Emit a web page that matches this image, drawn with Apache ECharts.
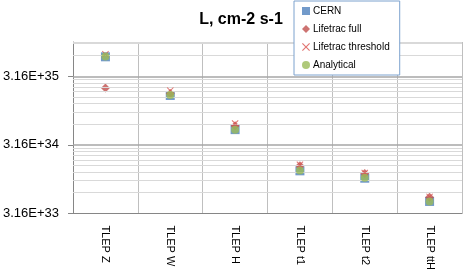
<!DOCTYPE html>
<html><head><meta charset="utf-8">
<script src="https://cdn.jsdelivr.net/npm/echarts@6/dist/echarts.min.js"></script>
<style>html,body{margin:0;padding:0;background:#fff}#c{width:471px;height:273px}</style>
</head><body><div id="c"></div>
<script>
const categories = ['TLEP Z', 'TLEP W', 'TLEP H', 'TLEP t1', 'TLEP t2', 'TLEP ttH'];
const cern = [6.08e35, 1.66e35, 5.27e34, 1.32e34, 1.03e34, 4.72e33];
const lifetracFull = [2.14e35, 1.78e35, 6.0e34, 1.57e34, 1.21e34, 5.45e33];
const lifetracThreshold = [6.6e35, 1.95e35, 6.46e34, 1.62e34, 1.23e34, 5.5e33];
const analytical = [6.17e35, 1.68e35, 5.25e34, 1.33e34, 1.05e34, 4.72e33];
const yTickValues = [3.1623e33, 3.1623e34, 3.1623e35];
const yMin = 3.1623e33, yMax = 1e36;
const minorMultipliers = [2, 3, 4, 5, 6, 7, 8, 9];

const majorLines = yTickValues.slice(1).map(v => ({yAxis: v}));
const minorLines = [];
yTickValues.forEach(b => minorMultipliers.forEach(k => { if (b * k < yMax) minorLines.push({yAxis: b * k}); }));
minorLines.push({yAxis: yMax});

const FONT = 'Liberation Sans';
const xPath = 'path://M1,0L5,4L9,0L10,1L6,5L10,9L9,10L5,6L1,10L0,9L4,5L0,1Z';
const chart = echarts.init(document.getElementById('c'));
chart.setOption({
  animation: false,
  title: {text: 'L, cm-2 s-1', left: 236, textAlign: 'center', top: 7,
    textStyle: {fontFamily: FONT, fontSize: 16, fontWeight: 'bold', color: '#000'}},
  legend: {
    orient: 'vertical', left: 294, top: 1, padding: [4, 10, 4, 8],
    backgroundColor: '#fff', borderColor: '#7da2ce', borderWidth: 1,
    itemWidth: 8, itemHeight: 8, itemGap: 6,
    textStyle: {fontFamily: FONT, fontSize: 10, color: '#000', lineHeight: 12, padding: [0, 0, 0, -2]},
    data: [
      {name: 'CERN', icon: 'rect'},
      {name: 'Lifetrac full', icon: 'diamond'},
      {name: 'Lifetrac threshold', icon: xPath},
      {name: 'Analytical', icon: 'circle'}
    ],
    z: 10
  },
  grid: {left: 73, right: 9, top: 42, bottom: 59},
  xAxis: {
    type: 'category', data: categories, boundaryGap: true,
    axisLine: {lineStyle: {color: '#868686'}},
    axisTick: {alignWithLabel: true, length: 4, lineStyle: {color: '#868686'}},
    axisLabel: {rotate: -90, margin: 12, fontFamily: FONT, fontSize: 11, color: '#000'},
    splitLine: {show: true, interval: 0, lineStyle: {color: '#bfbfbf', width: 1}}
  },
  yAxis: {
    type: 'log', logBase: 10, min: yMin, max: yMax,
    axisLine: {show: true, lineStyle: {color: '#868686'}},
    axisTick: {show: true, length: 5, customValues: yTickValues, lineStyle: {color: '#868686'}},
    axisLabel: {customValues: yTickValues, margin: 14, fontFamily: FONT, fontSize: 13, color: '#000',
      formatter: v => Number(v).toExponential(2).toUpperCase()},
    splitLine: {show: false}
  },
  series: [
    {type: 'line', name: 'grid', data: [], silent: true, z: 1,
      markLine: {silent: true, symbol: 'none', label: {show: false}, animation: false,
        data: minorLines.map(d => Object.assign({lineStyle: {color: '#d9d9d9', width: 1, type: 'solid'}}, d))
          .concat(majorLines.map(d => Object.assign({lineStyle: {color: '#a6a6a6', width: 1.5, type: 'solid'}}, d)))}},
    {type: 'scatter', name: 'CERN', data: cern, symbol: 'rect', symbolSize: 9, z: 3,
      itemStyle: {color: '#4f81bd'}},
    {type: 'scatter', name: 'Lifetrac full', data: lifetracFull, symbol: 'diamond', symbolSize: 9, z: 4,
      itemStyle: {color: '#c0504d'}},
    {type: 'scatter', name: 'Lifetrac threshold', data: lifetracThreshold, symbol: xPath, symbolSize: 7, z: 5,
      itemStyle: {color: '#d9534f'}},
    {type: 'scatter', name: 'Analytical', data: analytical, symbol: 'circle', symbolSize: 8, z: 6,
      itemStyle: {color: '#9bbb59'}}
  ]
});
</script></body></html>
